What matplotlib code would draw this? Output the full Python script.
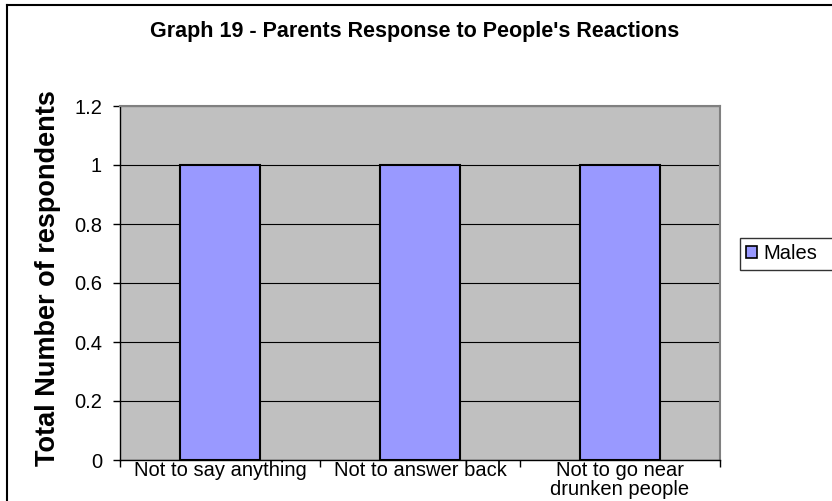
import matplotlib
matplotlib.use("Agg")
import matplotlib.pyplot as plt
from matplotlib.patches import Patch
from matplotlib.lines import Line2D

plt.rcParams['font.family'] = ['Liberation Sans', 'DejaVu Sans']

categories = ["Not to say anything", "Not to answer back", "Not to go near\ndrunken people"]
males = [1, 1, 1]
yticks = [0, 0.2, 0.4, 0.6, 0.8, 1, 1.2]
ytick_labels = ["0", "0.2", "0.4", "0.6", "0.8", "1", "1.2"]
title = "Graph 19 - Parents Response to People's Reactions"
ylabel = "Total Number of respondents"
series_name = "Males"

W, H = 832, 501
fig = plt.figure(figsize=(W / 100, H / 100), dpi=100)
fig.patch.set_facecolor("white")

ax = fig.add_axes([120 / W, 1 - 460 / H, 600 / W, (460 - 106) / H])
ax.set_facecolor("#C0C0C0")

x = list(range(len(categories)))
ax.bar(x, males, width=0.4, color="#9999FF", edgecolor="black", linewidth=1.5, zorder=3)

ax.set_xlim(-0.5, len(categories) - 0.5)
ax.set_ylim(0, 1.2)
ax.set_yticks(yticks)
ax.set_yticklabels(ytick_labels, fontsize=14.5)
ax.yaxis.grid(True, color="black", linewidth=0.8, zorder=1)
ax.set_axisbelow(True)

ax.set_xticks(x)
ax.set_xticklabels(categories, fontsize=14.5, linespacing=1.0, va="top")
ax.tick_params(axis="x", length=0, pad=1)
ax.tick_params(axis="y", length=5, width=1, direction="out", pad=8)
# category boundary ticks
ax.set_xticks([i - 0.5 for i in range(len(categories) + 1)], minor=True)
ax.tick_params(axis="x", which="minor", length=5, width=1, direction="out")

for s in ["top", "right"]:
    ax.spines[s].set_color("#808080")
    ax.spines[s].set_linewidth(1.5)
ax.spines["left"].set_color("black")
ax.spines["bottom"].set_color("black")
ax.spines["left"].set_linewidth(1)
ax.spines["bottom"].set_linewidth(1)

ax.set_ylabel(ylabel, fontsize=19.5, fontweight="bold")
ax.yaxis.set_label_coords(-(120 - 61) / 600, (460 - 278) / 354)

fig.text(415 / W, 1 - 32 / H, title, ha="center", va="center", fontsize=15.5, fontweight="bold")

# figure border (top and left visible)
fig.add_artist(Line2D([7 / W, 7 / W], [0, 1 - 5 / H], color="black", linewidth=1.5, transform=fig.transFigure))
fig.add_artist(Line2D([7 / W, 1], [1 - 5 / H, 1 - 5 / H], color="black", linewidth=1.5, transform=fig.transFigure))

handle = Patch(facecolor="#9999FF", edgecolor="black", linewidth=1.2)
leg = fig.legend([handle], [series_name], loc="center left",
                 bbox_to_anchor=(740 / W, 1 - 254 / H, 120 / W, 0.0001), mode="expand",
                 fontsize=14.5, frameon=True, fancybox=False, borderpad=0.3,
                 handlelength=0.55, handleheight=0.55, handletextpad=0.3, borderaxespad=0)
leg.get_frame().set_edgecolor("black")
leg.get_frame().set_linewidth(1)

fig.savefig("out.png", dpi=100, facecolor="white")
